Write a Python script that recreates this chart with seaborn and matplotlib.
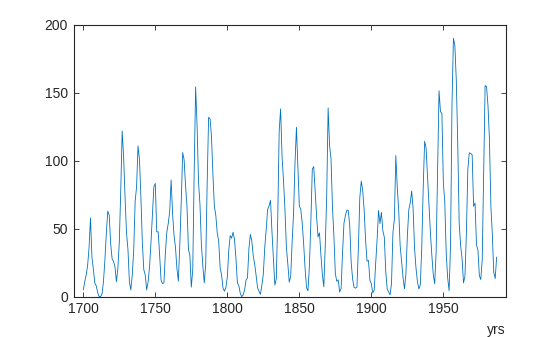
import numpy as np
import pandas as pd
import matplotlib
matplotlib.use("Agg")
import matplotlib.pyplot as plt
import seaborn as sns

years = list(range(1700, 1988))
sunspots = [
    5, 11, 16, 23, 36, 58, 29, 20, 10, 8,
    3, 0, 0, 2, 11, 27, 47, 63, 60, 39,
    28, 26, 22, 11, 21, 40, 78, 122, 103, 73,
    47, 35, 11, 5, 16, 34, 70, 81, 111, 101,
    73, 40, 20, 16, 5, 11, 22, 40, 60, 80.9,
    83.4, 47.7, 47.8, 30.7, 12.2, 9.6, 10.2, 32.4, 47.6, 54.0,
    62.9, 85.9, 61.2, 45.1, 36.4, 20.9, 11.4, 37.8, 69.8, 106.1,
    100.8, 81.6, 66.5, 34.8, 30.6, 7.0, 19.8, 92.5, 154.4, 125.9,
    84.8, 68.1, 38.5, 22.8, 10.2, 24.1, 82.9, 132.0, 130.9, 118.1,
    89.9, 66.6, 60.0, 46.9, 41.0, 21.3, 16.0, 6.4, 4.1, 6.8,
    14.5, 34.0, 45.0, 43.1, 47.5, 42.2, 28.1, 10.1, 8.1, 2.5,
    0.0, 1.4, 5.0, 12.2, 13.9, 35.4, 45.8, 41.1, 30.1, 23.9,
    15.6, 6.6, 4.0, 1.8, 8.5, 16.6, 36.3, 49.6, 64.2, 67.0,
    70.9, 47.8, 27.5, 8.5, 13.2, 56.9, 121.5, 138.3, 103.2, 85.7,
    64.6, 36.7, 24.2, 10.7, 15.0, 40.1, 61.5, 98.5, 124.7, 96.3,
    66.6, 64.5, 54.1, 39.0, 20.6, 6.7, 4.3, 22.7, 54.8, 93.8,
    95.8, 77.2, 59.1, 44.0, 47.0, 30.5, 16.3, 7.3, 37.6, 74.0,
    139.0, 111.2, 101.6, 66.2, 44.7, 17.0, 11.3, 12.4, 3.4, 6.0,
    32.3, 54.3, 59.7, 63.7, 63.5, 52.2, 25.4, 13.1, 6.8, 6.3,
    7.1, 35.6, 73.0, 85.1, 78.0, 64.0, 41.8, 26.2, 26.7, 12.1,
    9.5, 2.7, 5.0, 24.4, 42.0, 63.5, 53.8, 62.0, 48.5, 43.9,
    18.6, 5.7, 3.6, 1.4, 9.6, 47.4, 57.1, 103.9, 80.6, 63.6,
    37.6, 26.1, 14.2, 5.8, 16.7, 44.3, 63.9, 69.0, 77.8, 64.9,
    35.7, 21.2, 11.1, 5.7, 8.7, 36.1, 79.7, 114.4, 109.6, 88.8,
    67.8, 47.5, 30.6, 16.3, 9.6, 33.2, 92.6, 151.6, 136.3, 134.7,
    83.9, 69.4, 31.5, 13.9, 4.4, 38.0, 141.7, 190.2, 184.8, 159.0,
    112.3, 53.9, 37.5, 27.9, 10.2, 15.1, 47.0, 93.8, 105.9, 105.5,
    104.5, 66.6, 68.9, 38.0, 34.5, 15.5, 12.6, 27.5, 92.5, 155.4,
    154.7, 140.5, 115.9, 66.6, 45.9, 17.9, 13.4, 29.2,
]
xticks = [1700, 1750, 1800, 1850, 1900, 1950]
yticks = [0, 50, 100, 150, 200]
xlabel = "yrs"

df = pd.DataFrame({"year": years, "spots": sunspots})

sns.set_style("white")
plt.rcParams['font.family'] = ['Liberation Sans', 'DejaVu Sans']

fig = plt.figure(figsize=(5.6, 3.37), dpi=100)
ax = fig.add_axes([73.5 / 560, 1 - 296.7 / 337, (506 - 73.5) / 560, (296.7 - 25) / 337])
sns.lineplot(data=df, x="year", y="spots", ax=ax, color="#0072BD", linewidth=0.6)

ax.set_xlim(1693.2, 1993.5)
ax.set_ylim(0, 200)
ax.set_xticks(xticks)
ax.set_yticks(yticks)
ax.tick_params(direction="in", length=3.5, width=0.6, colors="#262626",
               labelsize=10, top=True, right=True, bottom=True, left=True, pad=4)
for s in ax.spines.values():
    s.set_visible(True)
    s.set_color("#262626")
    s.set_linewidth(0.8)
ax.set_ylabel("")
ax.set_xlabel("")
fig.text(506 / 560, 1 - 330 / 337, xlabel, ha="right", va="center",
         fontsize=10, color="#262626")

fig.savefig("out.png", dpi=100)
